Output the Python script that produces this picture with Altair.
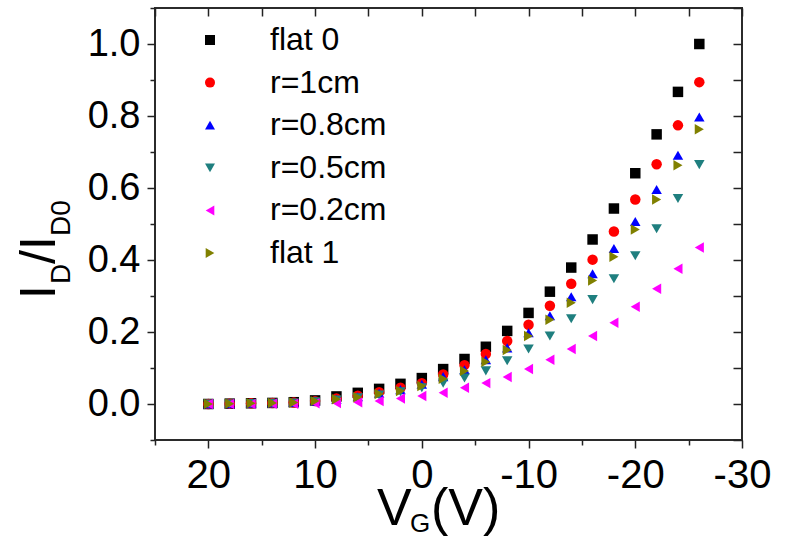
import altair as alt
import pandas as pd

FONT = "Liberation Sans"

# Gate voltage sweep (V)
vg = [20, 18, 16, 14, 12, 10, 8, 6, 4, 2, 0, -2, -4, -6, -8, -10,
      -12, -14, -16, -18, -20, -22, -24, -26]

# Normalised drain current I_D / I_D0 for each bending state
flat_0 = [0.000, 0.001, 0.002, 0.003, 0.005, 0.010, 0.021, 0.031, 0.042, 0.056, 0.072, 0.097,
          0.125, 0.159, 0.203, 0.253, 0.312, 0.379, 0.457, 0.543, 0.641, 0.749, 0.867, 1.000]
r_1cm = [0.000, 0.001, 0.002, 0.003, 0.004, 0.008, 0.015, 0.023, 0.033, 0.045, 0.058, 0.082,
         0.108, 0.139, 0.175, 0.220, 0.273, 0.334, 0.401, 0.479, 0.568, 0.666, 0.774, 0.894]
r_08cm = [0.000, 0.001, 0.002, 0.003, 0.004, 0.008, 0.013, 0.020, 0.030, 0.040, 0.055, 0.076,
          0.095, 0.123, 0.156, 0.198, 0.245, 0.298, 0.362, 0.432, 0.507, 0.596, 0.691, 0.797]
r_05cm = [0.000, 0.000, 0.001, 0.002, 0.003, 0.006, 0.011, 0.017, 0.025, 0.034, 0.045, 0.058,
          0.072, 0.092, 0.120, 0.153, 0.189, 0.237, 0.290, 0.348, 0.412, 0.487, 0.571, 0.665]
r_02cm = [0.000, 0.000, 0.000, 0.001, 0.001, 0.002, 0.003, 0.005, 0.008, 0.015, 0.022, 0.031,
          0.045, 0.058, 0.075, 0.097, 0.123, 0.153, 0.189, 0.226, 0.270, 0.320, 0.376, 0.435]
flat_1 = [0.000, 0.001, 0.002, 0.003, 0.004, 0.008, 0.013, 0.019, 0.028, 0.036, 0.050, 0.070,
          0.092, 0.117, 0.150, 0.189, 0.234, 0.281, 0.343, 0.409, 0.485, 0.568, 0.663, 0.763]

series_names = ["flat 0", "r=1cm", "r=0.8cm", "r=0.5cm", "r=0.2cm", "flat 1"]
series_values = [flat_0, r_1cm, r_08cm, r_05cm, r_02cm, flat_1]
series_colors = ["#000000", "#ff0000", "#0000ff", "#1f7f7f", "#ff00ff", "#808000"]
series_shapes = ["square", "circle", "triangle-up", "triangle-down",
                 "triangle-left", "triangle-right"]

# Axis tick positions
x_major = [20, 10, 0, -10, -20, -30]
x_minor = [25, 15, 5, -5, -15, -25]
x_mirror = [25, 20, 15, 10, 5, 0, -5, -10, -15, -20, -25, -30]
y_major = [0.0, 0.2, 0.4, 0.6, 0.8, 1.0]
y_minor = [-0.1, 0.1, 0.3, 0.5, 0.7, 0.9, 1.1]
y_mirror = [-0.1, 0.0, 0.1, 0.2, 0.3, 0.4, 0.5, 0.6, 0.7, 0.8, 0.9, 1.0, 1.1]

rows = []
for name, vals in zip(series_names, series_values):
    for v, r in zip(vg, vals):
        rows.append({"vg": v, "ratio": r, "series": name})
df = pd.DataFrame(rows)

W, H = 587, 432
TICK = "#222222"

x_scale = alt.Scale(domain=[-30, 25], reverse=True, nice=False, zero=False)
y_scale = alt.Scale(domain=[-0.1, 1.1], nice=False, zero=False)


def tick_axis(orient, values, size, offset=0, labels=False, **kw):
    return alt.Axis(orient=orient, values=values, tickSize=size, tickWidth=1.5,
                    tickColor=TICK, domain=False, grid=False, labels=labels,
                    title=None, offset=offset, **kw)


legend = alt.Legend(title=None, orient="none", legendX=39, legendY=16,
                    labelFont=FONT, labelFontSize=32, labelColor="black",
                    symbolSize=100, symbolStrokeWidth=0, labelOffset=44,
                    rowPadding=10.6, padding=0, symbolOpacity=1, labelLimit=300)

points = alt.Chart(df).mark_point(filled=True, opacity=1, size=110, strokeWidth=0).encode(
    x=alt.X("vg:Q", scale=x_scale,
            axis=tick_axis("bottom", x_major, 8, labels=True,
                           labelExpr="'' + datum.value",
                           labelFont=FONT, labelFontSize=40, labelColor="black",
                           labelPadding=7, labelFlush=False, labelOverlap=False)),
    y=alt.Y("ratio:Q", scale=y_scale,
            axis=tick_axis("left", y_major, 8, labels=True, format=".1f",
                           labelFont=FONT, labelFontSize=38, labelColor="black",
                           labelPadding=7, labelFlush=False, labelOverlap=False)),
    color=alt.Color("series:N", scale=alt.Scale(domain=series_names, range=series_colors),
                    legend=legend),
    shape=alt.Shape("series:N", scale=alt.Scale(domain=series_names, range=series_shapes),
                    legend=legend),
)

minor_ticks = alt.Chart(df).mark_point(opacity=0).encode(
    x=alt.X("vg:Q", scale=x_scale, axis=tick_axis("bottom", x_minor, 5)),
    y=alt.Y("ratio:Q", scale=y_scale, axis=tick_axis("left", y_minor, 5)),
)

# Mirrored ticks on the top and right edges, pointing into the plot
mirror_ticks = alt.Chart(df).mark_point(opacity=0).encode(
    x=alt.X("vg:Q", scale=x_scale, axis=tick_axis("top", x_mirror, 8, offset=-8)),
    y=alt.Y("ratio:Q", scale=y_scale, axis=tick_axis("right", y_mirror, 9, offset=-9)),
)


def piece(text, size, x, y, angle=None):
    kw = dict(text=text, font=FONT, fontSize=size, align="left",
              baseline="alphabetic", color="black")
    if angle is not None:
        kw["angle"] = angle
    return alt.Chart(alt.Data(values=[{}])).mark_text(**kw).encode(
        x=alt.value(x), y=alt.value(y))


# Axis titles with subscripts: V_G(V) and I_D/I_D0
x_title = [
    piece("V", 52, 222, 517),
    piece("G", 26, 255, 524),
    piece("(V)", 52, 276, 517),
]
y_title = [
    piece("I", 50, -100, 291, 270),
    piece("D", 28, -85, 276, 270),
    piece("/I", 50, -100, 256, 270),
    piece("D0", 28, -85, 228, 270),
]

chart = alt.layer(
    minor_ticks, mirror_ticks, points, *x_title, *y_title
).resolve_axis(x="independent", y="independent").properties(
    width=W, height=H,
    autosize=alt.AutoSizeParams(type="none"),
    padding={"left": 155, "top": 8, "right": 44, "bottom": 100},
    background="white",
).configure_view(stroke="#2b2b2b", strokeWidth=2)

chart.save("out.html", embed_options={"renderer": "svg", "actions": False})
